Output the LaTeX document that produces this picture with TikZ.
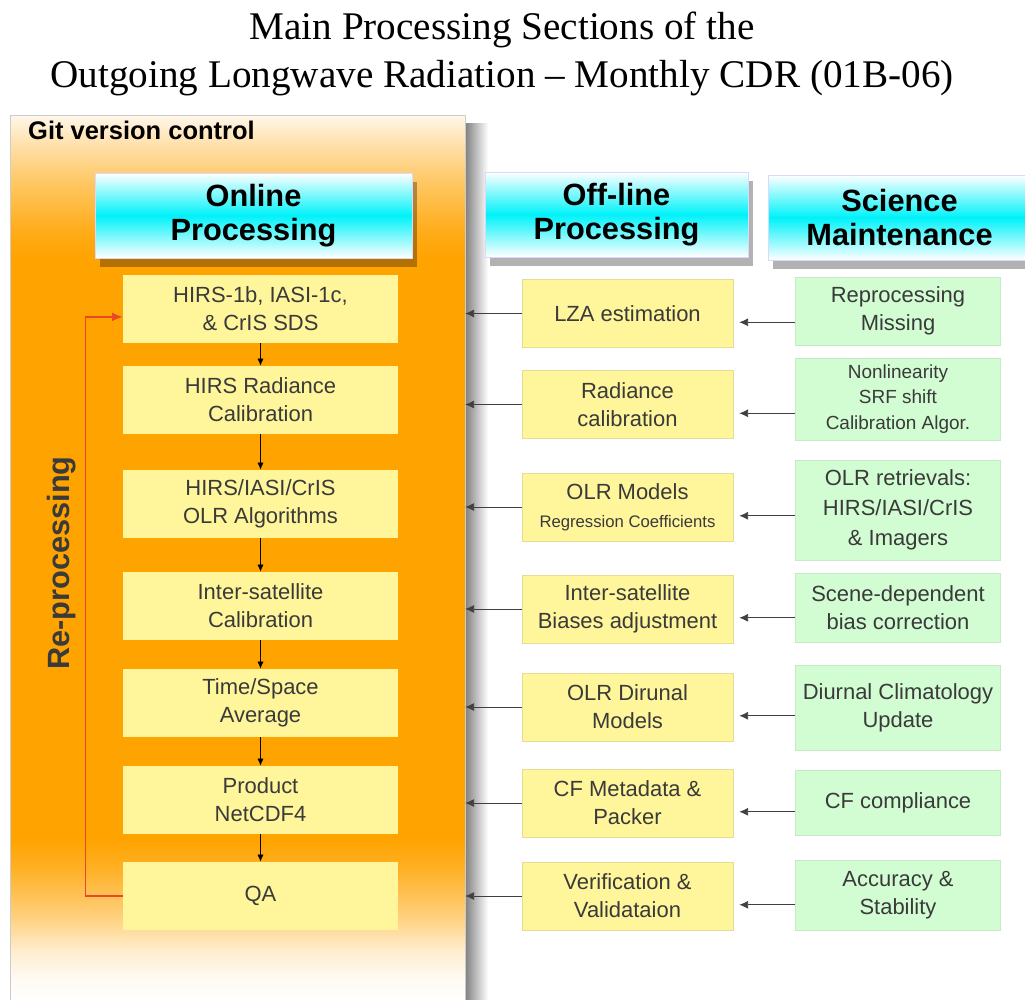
\documentclass[tikz,border=0pt]{standalone}
\usepackage{fontspec}
\setmainfont{Liberation Serif}
\setsansfont{Liberation Sans}
\usetikzlibrary{positioning,shapes,arrows,arrows.meta,shadows}
\definecolor{boxyellow}{RGB}{255,245,155}
\definecolor{boxgreen}{RGB}{210,252,210}
\definecolor{gitorange}{RGB}{255,163,0}
\definecolor{headcyan}{RGB}{0,242,250}
\definecolor{boxtext}{RGB}{58,58,58}
\definecolor{relinecol}{RGB}{235,70,40}
\pgfdeclareverticalshading{gitshade}{100bp}{color(0bp)=(white); color(25bp)=(white); color(26.4bp)=(gitorange!4!white); color(28.1bp)=(gitorange!20!white); color(29.9bp)=(gitorange!50!white); color(32.6bp)=(gitorange!85!white); color(34.3bp)=(gitorange); color(66.9bp)=(gitorange); color(68.5bp)=(gitorange!90!white); color(71.3bp)=(gitorange!60!white); color(73.6bp)=(gitorange!30!white); color(75bp)=(gitorange!8!white); color(100bp)=(gitorange!8!white)}

\begin{document}
\begin{tikzpicture}[x=0.02cm, y=-0.02cm, auto]
	\tikzstyle{block} = [rectangle, text centered, align=center, inner sep=2pt, text=boxtext, font=\sffamily\fontsize{12.5}{16}\selectfont]
	\tikzstyle{online} = [block, fill=boxyellow, minimum width=5.5cm, minimum height=1.36cm]
	\tikzstyle{offline} = [block, fill=boxyellow, draw=boxyellow!80!gray, very thin, minimum width=4.22cm, minimum height=1.36cm]
	\tikzstyle{science} = [block, fill=boxgreen, draw=boxgreen!85!gray, very thin, minimum width=4.1cm]
	\tikzstyle{header} = [rectangle, draw=blue!15, top color=white, bottom color=white, middle color=headcyan, minimum height=1.7cm, align=center, font=\sffamily\bfseries\fontsize{17.5}{19.5}\selectfont, drop shadow={shadow xshift=3pt, shadow yshift=-5pt, fill=black, opacity=0.3}]
	\tikzstyle{line} = [draw, -{Latex[length=5pt,width=4.5pt]}, thin, black!75]
	\tikzstyle{downline} = [draw, -{Latex[length=4pt,width=3.5pt]}, thin, black]
	\tikzstyle{reline} = [draw, -{Latex[length=6pt,width=5pt]}, thick, relinecol]

	\useasboundingbox (0,0) rectangle (1025,1000);

	% Title
	\node [align=center, font=\fontsize{22.3}{27.5}\selectfont] (title) at (502,54) {Main Processing Sections of the\\ Outgoing Longwave Radiation -- Monthly CDR (01B-06)};

	% Git box
	\shade [left color=black!50, right color=white] (465,124) rectangle (488,1005);
	\node [rectangle, draw=gray!40, shading=gitshade, minimum width=9.1cm, minimum height=17.8cm] (git) at (237.5,560) {};
	\node [anchor=west, font=\sffamily\bfseries\fontsize{14.5}{17}\selectfont] (gitlabel) at (22,130) {Git version control};

	% Headers
	\node [header, minimum width=6.34cm] (hon) at (253.5,215.5) {Online\\ Processing};
	\node [header, minimum width=5.26cm] (hoff) at (616.5,214.5) {Off-line\\ Processing};
	\node [header, minimum width=5.26cm] (hsci) at (899.5,217.5) {Science\\ Maintenance};

	% Online column
	\node [online] (on1) at (260.5,309) {HIRS-1b, IASI-1c,\\ \& CrIS SDS};
	\node [online] (on2) at (260.5,400) {HIRS Radiance\\ Calibration};
	\node [online] (on3) at (260.5,504) {HIRS/IASI/CrIS\\ OLR Algorithms};
	\node [online] (on4) at (260.5,606) {Inter-satellite\\ Calibration};
	\node [online] (on5) at (260.5,703) {Time/Space\\ Average};
	\node [online] (on6) at (260.5,800) {Product\\ NetCDF4};
	\node [online] (on7) at (260.5,896) {QA};
	\node [rotate=90, text=boxtext, font=\sffamily\bfseries\fontsize{17.5}{20}\selectfont] (relabel) at (62,563) {Re-processing};

	% Off-line column
	\node [offline] (off1) at (627.5,313.5) {LZA estimation};
	\node [offline] (off2) at (627.5,404.5) {Radiance\\ calibration};
	\node [offline] (off3) at (627.5,507) {OLR Models\\ {\fontsize{9.5}{12}\selectfont Regression Coefficients}};
	\node [offline] (off4) at (627.5,609) {Inter-satellite\\ Biases adjustment};
	\node [offline] (off5) at (627.5,707) {OLR Dirunal\\ Models};
	\node [offline] (off6) at (627.5,803) {CF Metadata \&\\ Packer};
	\node [offline] (off7) at (627.5,896) {Verification \&\\ Validataion};

	% Science column
	\node [science, minimum height=1.36cm] (sci1) at (898,311) {Reprocessing\\ Missing};
	\node [science, minimum height=1.64cm, font=\sffamily\fontsize{10.8}{14.5}\selectfont] (sci2) at (898,399) {Nonlinearity\\ SRF shift\\ Calibration Algor.};
	\node [science, minimum height=2cm, font=\sffamily\fontsize{12.5}{17}\selectfont] (sci3) at (898,510) {OLR retrievals:\\ HIRS/IASI/CrIS\\ \& Imagers};
	\node [science, minimum height=1.38cm] (sci4) at (898,607.5) {Scene-dependent\\ bias correction};
	\node [science, minimum height=1.7cm] (sci5) at (898,707.5) {Diurnal Climatology\\ Update};
	\node [science, minimum height=1.3cm] (sci6) at (898,802.5) {CF compliance};
	\node [science, minimum height=1.4cm] (sci7) at (898,895) {Accuracy \&\\ Stability};

	% Draw edges
	\foreach \a/\b in {on1/on2, on2/on3, on3/on4, on4/on5, on5/on6, on6/on7}
		\path [downline] (\a) -- (\b);
	\foreach \i in {1,...,7} {
		\path [line] (off\i.west) -- (off\i.west -| git.east);
		\path [line] ([yshift=-5pt]off\i.east -| sci\i.west) -- ([xshift=3.5pt,yshift=-5pt]off\i.east);
	}
	\path [reline] (on7.west) -- ++(-37,0) |- ([yshift=-4.5pt]on1.west);
\end{tikzpicture}
\end{document}
